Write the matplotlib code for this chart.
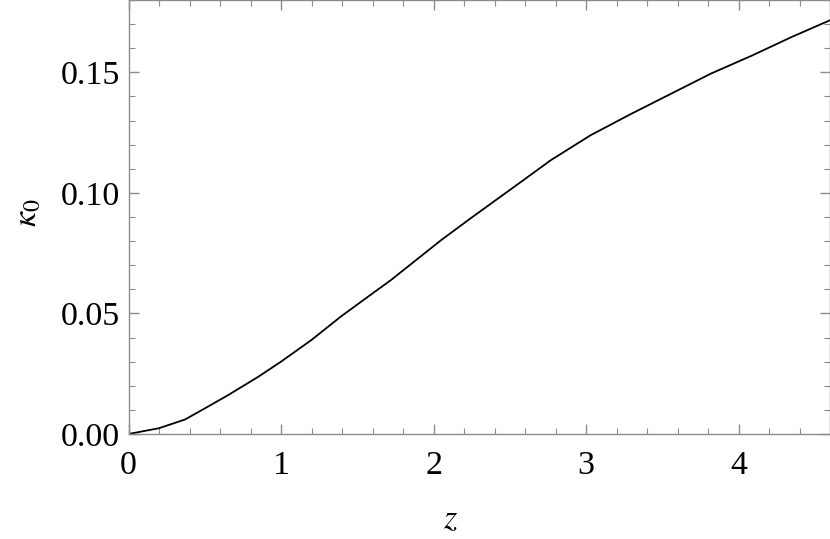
import numpy as np
import matplotlib.pyplot as plt
from matplotlib.ticker import MultipleLocator, FormatStrFormatter

# valori
z = [0.0, 0.2, 0.37, 0.5, 0.655, 0.85, 1.0, 1.2, 1.39, 1.6, 1.72, 2.05,
     2.24, 2.59, 2.77, 3.03, 3.30, 3.56, 3.82, 4.09, 4.35, 4.6]
kappa0 = [0.0, 0.0024, 0.0060, 0.0106, 0.0162, 0.0237, 0.0300, 0.0390,
          0.0486, 0.0583, 0.0638, 0.0804, 0.0893, 0.1053, 0.1136, 0.1239,
          0.1329, 0.1412, 0.1495, 0.1570, 0.1647, 0.1716]

plt.rcParams['font.family'] = ['Liberation Serif', 'DejaVu Serif']
plt.rcParams['mathtext.fontset'] = 'stix'

fig = plt.figure(figsize=(8.3, 5.39), dpi=100)
ax = fig.add_axes([128.5 / 830, 105 / 539, 701.5 / 830, 434 / 539])

ax.plot(z, kappa0, color='black', linewidth=1.3)

ax.set_xlim(0, 4.6)
ax.set_ylim(0, 0.18)
ax.xaxis.set_major_locator(MultipleLocator(1))
ax.xaxis.set_minor_locator(MultipleLocator(0.2))
ax.yaxis.set_major_locator(MultipleLocator(0.05))
ax.yaxis.set_minor_locator(MultipleLocator(0.01))
ax.yaxis.set_major_formatter(FormatStrFormatter('%.2f'))

gri = '#8c8c8c'
for s in ax.spines.values():
    s.set_color(gri)
    s.set_linewidth(1.0)
ax.tick_params(which='both', direction='in', top=True, right=True,
               color=gri, labelsize=24.5, labelcolor='black')
ax.tick_params(which='major', length=7, width=1.0)
ax.tick_params(which='minor', length=4, width=0.8)
ax.tick_params(axis='x', pad=12)
ax.tick_params(axis='y', pad=6)

# etichetele axelor
fig.text(450 / 830, 1 - 520 / 539, r'$z$', fontsize=24.5,
         ha='center', va='center')
fig.text(28 / 830, 1 - 213 / 539, r'$\kappa_0$', fontsize=24.5,
         ha='center', va='center', rotation=90)

plt.savefig('out.png', dpi=100)
